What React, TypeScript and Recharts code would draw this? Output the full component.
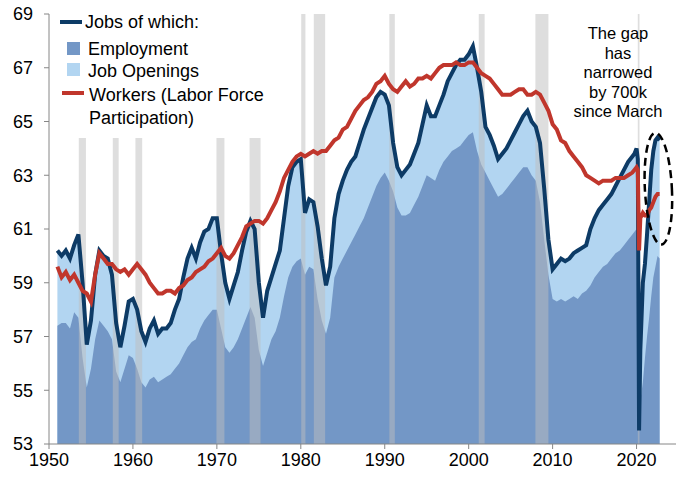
import { ComposedChart, Area, Line, XAxis, YAxis, ReferenceArea, ReferenceDot } from 'recharts';

// sample dates (fractional years)
const years = [
  1951, 1951.5, 1952, 1952.5, 1953, 1953.5, 1954, 1954.5, 1955, 1955.5,
  1956, 1956.5, 1957, 1957.5, 1958, 1958.5, 1959, 1959.5, 1960, 1960.5,
  1961, 1961.5, 1962, 1962.5, 1963, 1963.5, 1964, 1964.5, 1965, 1965.5,
  1966, 1966.5, 1967, 1967.5, 1968, 1968.5, 1969, 1969.5, 1970, 1970.5,
  1971, 1971.5, 1972, 1972.5, 1973, 1973.5, 1974, 1974.5, 1975, 1975.5,
  1976, 1976.5, 1977, 1977.5, 1978, 1978.5, 1979, 1979.5, 1980, 1980.5,
  1981, 1981.5, 1982, 1982.5, 1983, 1983.5, 1984, 1984.5, 1985, 1985.5,
  1986, 1986.5, 1987, 1987.5, 1988, 1988.5, 1989, 1989.5, 1990, 1990.5,
  1991, 1991.5, 1992, 1992.5, 1993, 1993.5, 1994, 1994.5, 1995, 1995.5,
  1996, 1996.5, 1997, 1997.5, 1998, 1998.5, 1999, 1999.5, 2000, 2000.5,
  2001, 2001.5, 2002, 2002.5, 2003, 2003.5, 2004, 2004.5, 2005, 2005.5,
  2006, 2006.5, 2007, 2007.5, 2008, 2008.5, 2009, 2009.5, 2010, 2010.5,
  2011, 2011.5, 2012, 2012.5, 2013, 2013.5, 2014, 2014.5, 2015, 2015.5,
  2016, 2016.5, 2017, 2017.5, 2018, 2018.5, 2019, 2019.5,
  2019.75, 2020, 2020.15, 2020.3, 2020.45, 2020.75, 2021, 2021.25, 2021.5, 2021.75, 2022, 2022.25, 2022.5, 2022.75,
];

// jobs (employment + openings), % of population
const jobs = [
  60.2, 60.0, 60.2, 59.9, 60.4, 60.8, 59.0, 56.7, 57.6, 59.3,
  60.2, 60.0, 59.9, 59.3, 57.5, 56.6, 57.4, 58.3, 58.4, 58.0,
  57.2, 56.8, 57.3, 57.6, 57.1, 57.3, 57.3, 57.5, 58.0, 58.4,
  59.2, 59.9, 60.3, 59.9, 60.5, 60.9, 61.0, 61.4, 61.4, 60.1,
  59.0, 58.4, 58.9, 59.4, 60.2, 60.9, 61.3, 61.0, 59.0, 57.7,
  58.7, 59.2, 59.7, 60.2, 61.4, 62.6, 63.3, 63.5, 63.6, 61.6,
  62.1, 62.0, 61.1, 59.9, 58.9, 59.6, 61.4, 62.3, 62.8, 63.2,
  63.5, 63.7, 64.2, 64.7, 65.1, 65.5, 65.9, 66.1, 66.0, 65.6,
  64.2, 63.3, 63.0, 63.2, 63.4, 63.8, 64.2, 64.9, 65.6, 65.2,
  65.2, 65.6, 66.0, 66.5, 66.8, 67.1, 67.3, 67.3, 67.5, 67.8,
  67.0, 66.1, 64.8, 64.5, 64.1, 63.6, 63.8, 64.0, 64.3, 64.6,
  64.9, 65.2, 65.4, 65.0, 64.8, 64.2, 62.5, 60.6, 59.5, 59.7,
  59.9, 59.8, 59.9, 60.1, 60.2, 60.3, 60.4, 61.0, 61.4, 61.7,
  61.9, 62.1, 62.3, 62.6, 62.9, 63.2, 63.5, 63.7,
  63.8, 64.0, 63.6, 53.5, 56.5, 59.0, 59.7, 60.8, 62.0, 63.2, 63.9, 64.3, 64.4, 64.3,
];

const employment = [
  57.4, 57.5, 57.5, 57.3, 57.9, 57.7, 56.2, 55.1, 55.8, 56.9,
  57.6, 57.4, 57.2, 56.9, 55.7, 55.3, 55.8, 56.3, 56.2, 55.8,
  55.3, 55.1, 55.4, 55.5, 55.3, 55.4, 55.5, 55.6, 55.8, 56.0,
  56.3, 56.6, 56.8, 56.9, 57.3, 57.6, 57.8, 58.0, 58.0, 57.3,
  56.6, 56.4, 56.6, 56.9, 57.3, 57.7, 58.1, 57.7, 56.5, 55.9,
  56.4, 56.9, 57.2, 57.7, 58.5, 59.2, 59.6, 59.8, 59.9, 59.3,
  59.6, 59.5, 58.4, 57.6, 57.1, 57.7, 59.2, 59.6, 59.9, 60.2,
  60.5, 60.8, 61.1, 61.4, 61.8, 62.2, 62.6, 62.9, 63.1, 62.8,
  62.4, 61.8, 61.5, 61.5, 61.6, 61.9, 62.2, 62.6, 63.0, 62.9,
  62.8, 63.2, 63.5, 63.7, 63.9, 64.0, 64.1, 64.3, 64.5, 64.6,
  63.9, 63.4, 63.1, 62.8, 62.5, 62.2, 62.3, 62.5, 62.7, 62.9,
  63.1, 63.3, 63.3, 63.0, 62.8, 62.0, 60.6, 59.3, 58.4, 58.3,
  58.4, 58.3, 58.4, 58.5, 58.4, 58.6, 58.7, 58.9, 59.2, 59.4,
  59.6, 59.7, 59.9, 60.1, 60.2, 60.4, 60.6, 60.8,
  60.9, 61.0, 60.6, 53.5, 54.6, 55.3, 56.2, 57.0, 57.7, 58.5, 59.2, 59.6, 60.0, 59.9,
];

// labor force participation rate
const workers = [
  59.6, 59.2, 59.4, 59.1, 59.3, 59.0, 58.7, 58.6, 58.3, 59.3,
  60.1, 59.9, 59.7, 59.7, 59.5, 59.4, 59.5, 59.3, 59.5, 59.7,
  59.5, 59.3, 59.0, 58.8, 58.6, 58.6, 58.7, 58.7, 58.6, 58.8,
  58.9, 59.1, 59.2, 59.4, 59.5, 59.6, 59.8, 59.9, 60.1, 60.3,
  60.0, 59.9, 60.1, 60.4, 60.7, 61.1, 61.2, 61.3, 61.3, 61.2,
  61.4, 61.7, 62.0, 62.4, 62.9, 63.2, 63.5, 63.7, 63.8, 63.7,
  63.8, 63.9, 63.8, 63.9, 63.9, 64.1, 64.3, 64.4, 64.7, 64.8,
  65.1, 65.4, 65.6, 65.8, 65.9, 66.1, 66.4, 66.5, 66.7, 66.4,
  66.2, 66.1, 66.3, 66.5, 66.3, 66.4, 66.6, 66.6, 66.7, 66.6,
  66.8, 67.0, 67.1, 67.1, 67.1, 67.2, 67.1, 67.1, 67.2, 67.2,
  67.0, 66.8, 66.7, 66.6, 66.4, 66.2, 66.0, 66.0, 66.0, 66.1,
  66.2, 66.2, 66.0, 66.0, 66.1, 66.0, 65.7, 65.4, 64.9, 64.7,
  64.3, 64.2, 63.9, 63.7, 63.5, 63.3, 63.0, 62.9, 62.8, 62.7,
  62.8, 62.8, 62.8, 62.9, 62.9, 62.9, 63.0, 63.1,
  63.2, 63.3, 63.2, 60.2, 61.4, 61.6, 61.5, 61.5, 61.7, 61.8, 62.0, 62.2, 62.3, 62.3,
];

const recessionStart = [1953.55, 1957.6, 1960.3, 1969.95, 1973.9, 1980.05, 1981.55, 1990.55, 2001.2, 2007.95, 2020.15];
const recessionEnd = [1954.4, 1958.3, 1961.1, 1970.9, 1975.2, 1980.55, 1982.9, 1991.2, 2001.9, 2009.5, 2020.35];

const xTicks = [1950, 1960, 1970, 1980, 1990, 2000, 2010, 2020];
const yTicks = [53, 55, 57, 59, 61, 63, 65, 67, 69];
const noteLines = ['The gap', 'has', 'narrowed', 'by 700k', 'since March'];

const data = years.map((year, i) => ({
  year,
  jobs: jobs[i],
  employment: employment[i],
  workers: workers[i],
}));

const FONT = 'Arial, "Liberation Sans", sans-serif';
const NAVY = '#0D3B66';
const RED = '#C0362C';
const EMP = '#7397C6';
const OPEN = '#B2D5F1';

const GapEllipse = (props: any) => (
  <ellipse
    cx={props.cx}
    cy={props.cy}
    rx={13.5}
    ry={56}
    fill="none"
    stroke="#000"
    strokeWidth={2.5}
    strokeDasharray="8 5"
    transform={`rotate(-3 ${props.cx} ${props.cy})`}
  />
);

export default function App() {
  return (
    <div style={{ position: 'relative', width: 677, height: 477, fontFamily: FONT, background: '#fff' }}>
      <style>{'body{margin:0}'}</style>
      <ComposedChart width={677} height={477} data={data} margin={{ top: 14, right: 1, left: 0, bottom: 0 }}>
        <XAxis
          dataKey="year"
          type="number"
          domain={[1950, 2024.7]}
          ticks={xTicks}
          allowDataOverflow
          height={33}
          tickSize={5}
          tickMargin={4}
          stroke="#868686"
          tick={{ fill: '#000', fontSize: 18, fontFamily: FONT }}
        />
        <YAxis
          type="number"
          domain={[53, 69]}
          ticks={yTicks}
          allowDataOverflow
          width={49}
          tickSize={5}
          tickMargin={11}
          stroke="#868686"
          tick={{ fill: '#000', fontSize: 18, fontFamily: FONT }}
        />
        <Area
          dataKey="jobs"
          type="linear"
          fill={OPEN}
          fillOpacity={1}
          stroke="none"
          baseValue={53}
          isAnimationActive={false}
        />
        <Area
          dataKey="employment"
          type="linear"
          fill={EMP}
          fillOpacity={1}
          stroke="none"
          baseValue={53}
          isAnimationActive={false}
        />
        {recessionStart.map((s, i) => (
          <ReferenceArea
            key={s}
            x1={s}
            x2={recessionEnd[i]}
            y1={53}
            y2={69}
            fill="#BDBDBD"
            fillOpacity={0.5}
            stroke="none"
            zIndex={150}
          />
        ))}
        <Line
          dataKey="jobs"
          type="linear"
          stroke={NAVY}
          strokeWidth={4}
          dot={false}
          isAnimationActive={false}
        />
        <Line
          dataKey="workers"
          type="linear"
          stroke={RED}
          strokeWidth={4}
          dot={false}
          isAnimationActive={false}
        />
        <ReferenceDot x={2022.6} y={62.5} shape={GapEllipse} />
      </ComposedChart>

      {/* legend */}
      <div style={{ position: 'absolute', left: 56, top: 8, width: 224, height: 130, background: '#fff', fontSize: 18, color: '#000' }}>
        <div style={{ position: 'absolute', left: 4, top: 12, width: 22, height: 4, background: NAVY }} />
        <div style={{ position: 'absolute', left: 29, top: 3, lineHeight: '22px' }}>Jobs of which:</div>
        <div style={{ position: 'absolute', left: 11, top: 34, width: 13, height: 13, background: EMP }} />
        <div style={{ position: 'absolute', left: 32, top: 30, lineHeight: '22px' }}>Employment</div>
        <div style={{ position: 'absolute', left: 11, top: 55, width: 13, height: 13, background: OPEN }} />
        <div style={{ position: 'absolute', left: 32, top: 52, lineHeight: '22px' }}>Job Openings</div>
        <div style={{ position: 'absolute', left: 6, top: 83, width: 22, height: 4, background: RED }} />
        <div style={{ position: 'absolute', left: 33, top: 76, lineHeight: '23px' }}>
          Workers (Labor Force
          <br />
          Participation)
        </div>
      </div>

      {/* annotation */}
      <div style={{ position: 'absolute', left: 558, top: 24, width: 120, textAlign: 'center', fontSize: 16.5, lineHeight: '19.5px', color: '#000' }}>
        {noteLines.map((t) => (
          <div key={t}>{t}</div>
        ))}
      </div>
    </div>
  );
}
